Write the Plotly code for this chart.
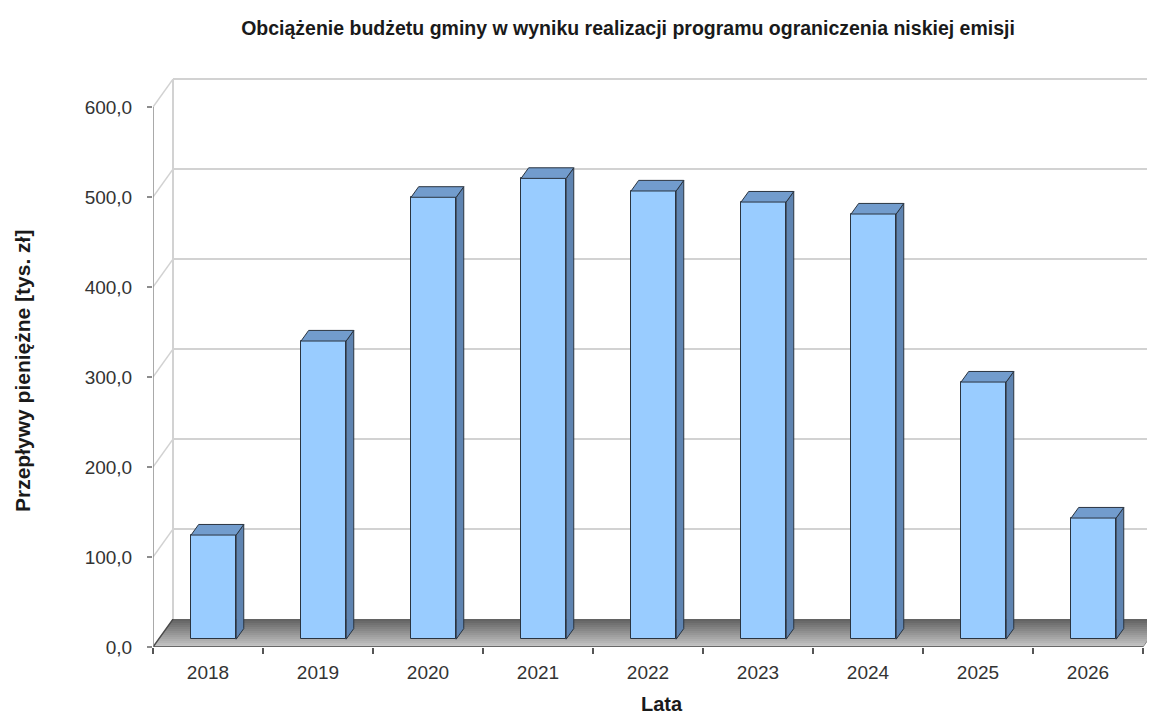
import plotly.graph_objects as go

# ---- data ----
years = ["2018", "2019", "2020", "2021", "2022", "2023", "2024", "2025", "2026"]
values = [115.7, 331.3, 491.0, 512.0, 498.0, 485.7, 472.4, 285.7, 134.6]
y_ticks = [0, 100, 200, 300, 400, 500, 600]
y_tick_labels = ["0,0", "100,0", "200,0", "300,0", "400,0", "500,0", "600,0"]
title_text = "Obciążenie budżetu gminy w wyniku realizacji programu ograniczenia niskiej emisji"
y_title = "Przepływy pieniężne [tys. zł]"
x_title = "Lata"

# ---- page / 3D style geometry ----
BODY = 8                      # default html body margin
W, H = 1155 - BODY, 718 - BODY
ML, MR, MT, MB = 153 - BODY, 0, 60 - BODY, 71
PW, PH = W - ML - MR, H - MT - MB
PX_PER_CAT = 110.0
PX_PER_UNIT = 0.9
N = len(years)
X0, X1 = -0.5, N - 0.5
X_RIGHT = X0 + PW / PX_PER_CAT
Y_TOP = PH / PX_PER_UNIT
YMAX = y_ticks[-1]
DX = 20 / PX_PER_CAT   # depth offset x
DY = 31.0              # depth offset y
F0, F1 = 0.28, 0.66    # bar depth span
BW = 0.41

def px_to_paper(px, py):
    return (px - BODY - ML) / PW, (H - MB - (py - BODY)) / PH

FONT = "Liberation Sans, Arial, sans-serif"
GRID = "#d2d2d2"

shapes = []
nb = 14
def mix(c1, c2, t):
    return "rgb(%d,%d,%d)" % tuple(round(a + (b - a) * t) for a, b in zip(c1, c2))
front_c, back_c = (200, 200, 200), (95, 95, 95)
for k in range(nb):
    d0, d1 = k / nb, (k + 1) / nb
    path = "M %f,%f L %f,%f L %f,%f L %f,%f Z" % (
        X0 + d0 * DX, d0 * DY, X1 + d0 * DX, d0 * DY,
        X1 + d1 * DX, d1 * DY, X0 + d1 * DX, d1 * DY)
    shapes.append(dict(type="path", path=path, xref="x", yref="y", layer="below",
                       fillcolor=mix(front_c, back_c, (k + 0.5) / nb),
                       line=dict(width=0)))
shapes.append(dict(type="path", xref="x", yref="y", layer="below",
                   path="M %f,%f L %f,%f L %f,%f" % (X0 + DX, DY, X0, 0, X1, 0),
                   line=dict(color="#4a4a4a", width=1.5)))
shapes.append(dict(type="path", xref="x", yref="y", layer="below",
                   path="M %f,%f L %f,%f" % (X1, 0, X1 + DX, DY),
                   line=dict(color="#8a8a8a", width=1)))
for v in y_ticks[1:]:
    shapes.append(dict(type="line", xref="x", yref="y", layer="below",
                       x0=X0 + DX, y0=v + DY, x1=X1 + DX, y1=v + DY,
                       line=dict(color=GRID, width=2)))
    shapes.append(dict(type="line", xref="x", yref="y", layer="below",
                       x0=X0, y0=v, x1=X0 + DX, y1=v + DY,
                       line=dict(color=GRID, width=1.5)))
shapes.append(dict(type="line", xref="x", yref="y", layer="below",
                   x0=X0 + DX, y0=DY, x1=X0 + DX, y1=YMAX + DY,
                   line=dict(color=GRID, width=2)))
shapes.append(dict(type="line", xref="x", yref="y", layer="above",
                   x0=X0, y0=0, x1=X0, y1=YMAX,
                   line=dict(color="#8c8c8c", width=1.5)))

# ---- bars ----
xc = [i + F0 * DX for i in range(N)]
base = F0 * DY
ddx, ddy = (F1 - F0) * DX, (F1 - F0) * DY
side_x, side_y, top_x, top_y = [], [], [], []
for x, v in zip(xc, values):
    xl, xr = x - BW / 2, x + BW / 2
    yb, yt = base, base + v
    side_x += [xr, xr + ddx, xr + ddx, xr, xr, None]
    side_y += [yb, yb + ddy, yt + ddy, yt, yb, None]
    top_x += [xl, xr, xr + ddx, xl + ddx, xl, None]
    top_y += [yt, yt, yt + ddy, yt + ddy, yt, None]

fig = go.Figure()
fig.add_trace(go.Bar(x=xc, y=values, base=base, width=BW,
                     marker=dict(color="#99ccff", line=dict(color="#2a3440", width=1)),
                     hoverinfo="skip", showlegend=False))
fig.add_trace(go.Scatter(x=side_x, y=side_y, mode="lines", fill="toself",
                         fillcolor="#5f84b1", line=dict(color="#2a3440", width=1),
                         hoverinfo="skip", showlegend=False))
fig.add_trace(go.Scatter(x=top_x, y=top_y, mode="lines", fill="toself",
                         fillcolor="#729ccd", line=dict(color="#2a3440", width=1),
                         hoverinfo="skip", showlegend=False))

yt_x, yt_y = px_to_paper(22, 371)
xt_x, xt_y = px_to_paper(662, 704)
annotations = [
    dict(text=y_title, xref="paper", yref="paper", x=yt_x, y=yt_y, textangle=-90,
         showarrow=False, xanchor="center", yanchor="middle",
         font=dict(family=FONT, size=21, color="#1a1a1a", weight="bold")),
    dict(text=x_title, xref="paper", yref="paper", x=xt_x, y=xt_y,
         showarrow=False, xanchor="center", yanchor="middle",
         font=dict(family=FONT, size=20, color="#1a1a1a", weight="bold")),
]

fig.update_layout(
    width=W, height=H,
    margin=dict(l=ML, r=MR, t=MT, b=MB, autoexpand=False),
    paper_bgcolor="white", plot_bgcolor="white",
    shapes=shapes, annotations=annotations,
    title=dict(text=title_text, x=(628 - BODY) / W, xanchor="center", xref="container",
               y=1 - (28 - BODY) / H, yanchor="middle", yref="container",
               font=dict(family=FONT, size=19.5, color="#1a1a1a", weight="bold")),
    xaxis=dict(range=[X0, X_RIGHT], tickmode="array", tickvals=list(range(N)), ticktext=years,
               ticks="", showgrid=False, zeroline=False, showline=False,
               ticklabelstandoff=12,
               tickfont=dict(family=FONT, size=19, color="#333333"),
               minor=dict(tickmode="array", tickvals=[i - 0.5 for i in range(N + 1)],
                          ticks="outside", ticklen=6, tickwidth=1.5, tickcolor="#555555",
                          showgrid=False),
               fixedrange=True, automargin=False),
    yaxis=dict(range=[0, Y_TOP], tickmode="array", tickvals=y_ticks, ticktext=y_tick_labels,
               ticks="outside", ticklen=5, tickwidth=1.5, tickcolor="#8c8c8c",
               showgrid=False, zeroline=False, showline=False,
               ticklabelstandoff=11,
               tickfont=dict(family=FONT, size=19, color="#333333"),
               fixedrange=True, automargin=False),
    bargap=0,
)

fig.write_html("out.html")
